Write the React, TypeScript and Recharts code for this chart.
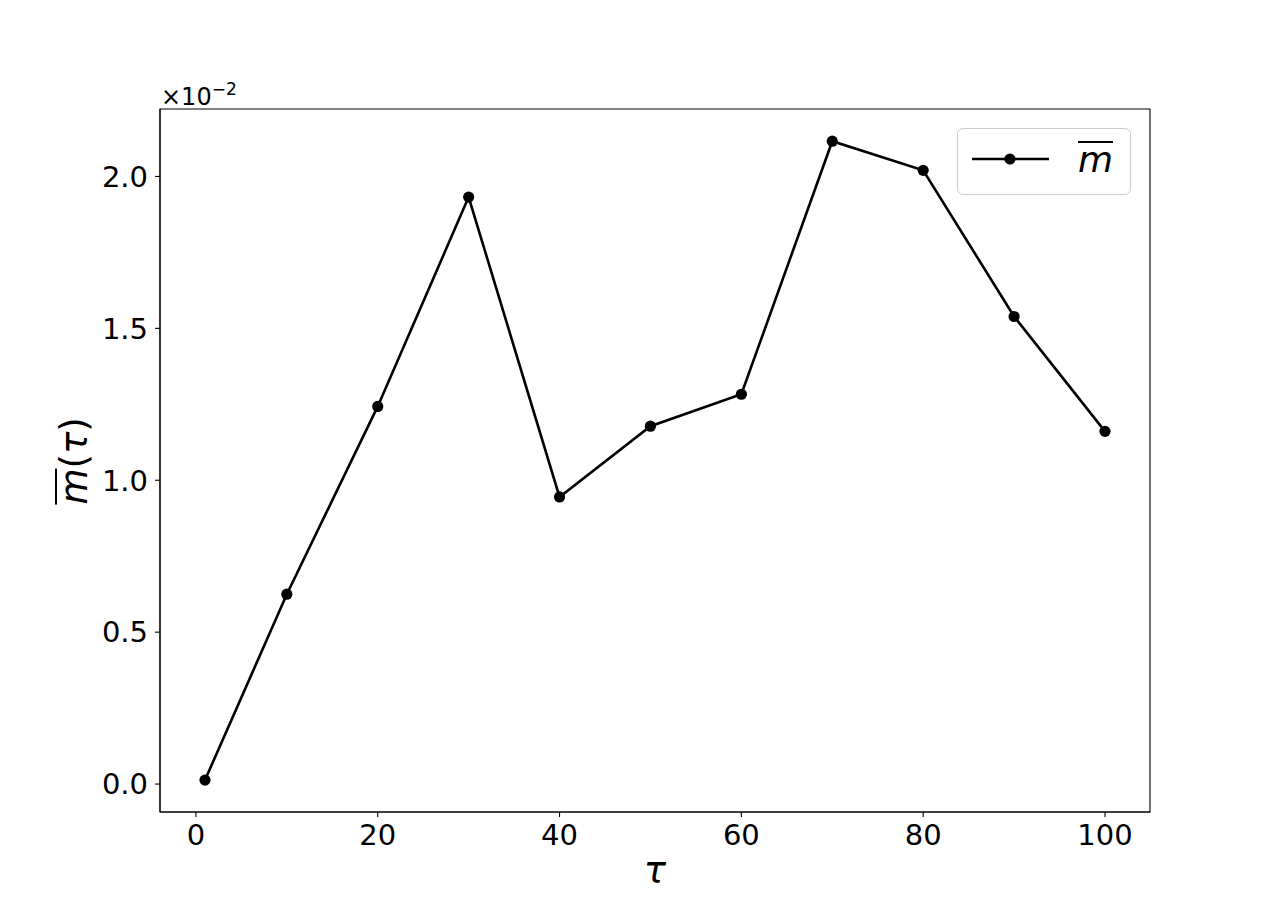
import React from 'react';
import { LineChart, Line, XAxis, YAxis, Legend, Label, ReferenceArea } from 'recharts';

// data
const tauValues: number[] = [1, 10, 20, 30, 40, 50, 60, 70, 80, 90, 100];
const mValues: number[] = [0.00013, 0.00625, 0.01243, 0.01932, 0.00945, 0.01178, 0.01283, 0.02116, 0.0202, 0.01539, 0.01161];
const xTicks: number[] = [0, 20, 40, 60, 80, 100];
const yTicks: number[] = [0, 0.005, 0.01, 0.015, 0.02];
const xDomain: [number, number] = [-3.95, 104.95];
const yDomain: [number, number] = [-0.00092, 0.02222];
const seriesName = 'm';
const offsetBase = '×10';
const offsetExp = '−2';

const data = tauValues.map((t, i) => ({ tau: t, m: mValues[i] }));

const FONT = 'DejaVu Sans';

const tickStyle = { fontSize: 29, fill: '#000', fontFamily: FONT };
const lineStyle = { stroke: '#000', strokeWidth: 1.1 };

const barred = (txt: string, size: number, lh: number) => (
  <span
    style={{
      display: 'inline-block',
      fontStyle: 'italic',
      lineHeight: `${lh}px`,
      borderTop: '2.4px solid #000',
      fontSize: size,
    }}
  >
    {txt}
  </span>
);

const LegendBox = (props: any) => {
  const item = props.payload && props.payload[0];
  const name = item ? item.value : seriesName;
  return (
    <div
      style={{
        boxSizing: 'border-box',
        width: 174,
        height: 67,
        border: '1.3px solid #cccccc',
        borderRadius: 6,
        background: 'rgba(255,255,255,0.8)',
        position: 'relative',
      }}
    >
      <svg width={80} height={20} style={{ position: 'absolute', left: 14, top: 20 }}>
        <line x1={0} y1={10} x2={77} y2={10} stroke="#000" strokeWidth={2.6} />
        <circle cx={38} cy={10} r={5.6} fill="#000" />
      </svg>
      <div
        style={{
          position: 'absolute',
          left: 120,
          top: 12,
          fontFamily: FONT,
          fontSize: 36,
          lineHeight: '36px',
          color: '#000',
          whiteSpace: 'nowrap',
        }}
      >
        {barred(name, 36, 34)}
      </div>
    </div>
  );
};

const XLabel = (props: any) => {
  const vb = props.viewBox || { x: 160, y: 812, width: 990 };
  return (
    <text
      x={vb.x + vb.width / 2}
      y={vb.y + 71}
      textAnchor="middle"
      fontFamily={FONT}
      fontStyle="italic"
      fontSize={37}
      fill="#000"
    >
      τ
    </text>
  );
};

const OffsetLabel = (props: any) => {
  const vb = props.viewBox || { x: 160, y: 109 };
  return (
    <text x={vb.x + 1} y={vb.y - 4} fontFamily={FONT} fontSize={24} fill="#000">
      <tspan>{offsetBase}</tspan>
      <tspan fontSize={17} dy={-10}>{offsetExp}</tspan>
    </text>
  );
};

export default function App() {
  return (
    <div style={{ position: 'absolute', left: 0, top: 0, width: 1279, height: 913, background: '#fff' }}>
      <LineChart
        width={1279}
        height={913}
        data={data}
        margin={{ top: 109, right: 129, bottom: 41, left: 80 }}
      >
        <XAxis
          dataKey="tau"
          type="number"
          domain={xDomain}
          allowDataOverflow
          ticks={xTicks}
          tick={tickStyle}
          tickSize={5}
          tickMargin={7}
          tickLine={lineStyle}
          axisLine={lineStyle}
          height={60}
          interval={0}
        >
          <Label content={<XLabel />} />
        </XAxis>
        <YAxis
          type="number"
          domain={yDomain}
          allowDataOverflow
          ticks={yTicks}
          tickFormatter={(v: number) => (v * 100).toFixed(1)}
          tick={tickStyle}
          tickSize={5}
          tickMargin={7}
          tickLine={lineStyle}
          axisLine={lineStyle}
          width={80}
          interval={0}
        />
        <ReferenceArea
          x1={xDomain[0]}
          x2={xDomain[1]}
          y1={yDomain[0]}
          y2={yDomain[1]}
          fill="none"
          fillOpacity={0}
          stroke="#000"
          strokeWidth={1.1}
          ifOverflow="visible"
        >
          <Label content={<OffsetLabel />} />
        </ReferenceArea>
        <Legend
          layout="horizontal"
          verticalAlign="middle"
          align="center"
          content={<LegendBox />}
          wrapperStyle={{ left: 957, top: 128, width: 174, height: 67, bottom: 'auto', right: 'auto' }}
        />
        <Line
          type="linear"
          dataKey="m"
          name={seriesName}
          stroke="#000"
          strokeWidth={2.6}
          dot={{ r: 5.6, fill: '#000', stroke: '#000', strokeWidth: 0 }}
          activeDot={false}
          isAnimationActive={false}
        />
      </LineChart>
      <div
        style={{
          position: 'absolute',
          left: 75,
          top: 461,
          transform: 'translate(-50%, -50%) rotate(-90deg)',
          fontFamily: FONT,
          fontSize: 37,
          lineHeight: '44px',
          whiteSpace: 'nowrap',
          color: '#000',
        }}
      >
        {barred('m', 37, 35)}
        <span>(</span>
        <span style={{ fontStyle: 'italic' }}>τ</span>
        <span>)</span>
      </div>
    </div>
  );
}
